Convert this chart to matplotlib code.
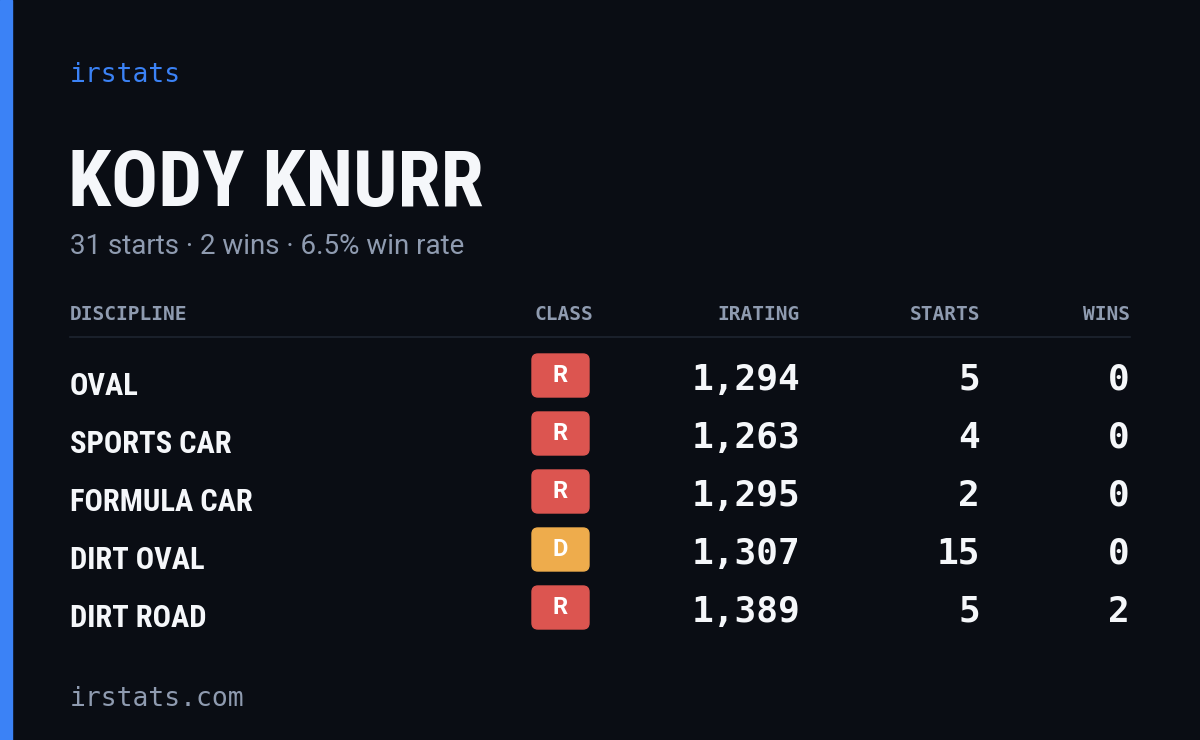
import matplotlib.pyplot as plt
from matplotlib.patches import Rectangle, FancyBboxPatch

name = 'KODY KNURR'
subtitle = '31 starts · 2 wins · 6.5% win rate'
disciplines = ['OVAL', 'SPORTS CAR', 'FORMULA CAR', 'DIRT OVAL', 'DIRT ROAD']
classes = ['R', 'R', 'R', 'D', 'R']
iratings = [1294, 1263, 1295, 1307, 1389]
starts = [5, 4, 2, 15, 5]
wins = [0, 0, 0, 0, 2]
headers = ['DISCIPLINE', 'CLASS', 'IRATING', 'STARTS', 'WINS']
class_colors = {'R': '#dc5550', 'D': '#eeac4c'}

W, H = 1200, 740
fig = plt.figure(figsize=(12, 7.4), dpi=100)
fig.patch.set_facecolor('#0a0d14')
ax = fig.add_axes([0, 0, 1, 1])
ax.set_xlim(0, W)
ax.set_ylim(H, 0)
ax.axis('off')

mono = 'DejaVu Sans Mono'
cond = ['Roboto Condensed', 'Roboto', 'DejaVu Sans']
sans = ['Roboto', 'DejaVu Sans']
grey = '#8f9bb0'

ax.add_patch(Rectangle((0, 0), 12, H, color='#3b82f6'))
ax.text(70, 75, 'irstats', family=mono, fontsize=19, color='#3b82f6', va='center')
ax.text(68, 185, name, family=cond, fontsize=56, weight='bold', color='#f5f7fa', va='center')
ax.text(70, 247, subtitle, family=sans, fontsize=20, color=grey, va='center')

hx = [70, 593, 800, 980, 1130]
ha = ['left', 'right', 'right', 'right', 'right']
for h, x, a in zip(headers, hx, ha):
    ax.text(x, 315, h, family=mono, fontsize=14, weight='bold', color=grey, ha=a, va='center')
ax.plot([70, 1130], [337, 337], color='#1e2430', lw=1.2)

for i, d in enumerate(disciplines):
    y = 378 + i * 58
    ax.text(70, y + 8, d, family=cond, fontsize=22, weight='bold', color='#f5f7fa', va='center')
    ax.add_patch(FancyBboxPatch((532, y - 24), 57, 43, boxstyle='round,pad=0,rounding_size=6',
                                color=class_colors[classes[i]]))
    ax.text(560, y - 2, classes[i], family=sans, fontsize=17, weight='bold',
            color='white', ha='center', va='center')
    for val, x in [(f'{iratings[i]:,}', 800), (str(starts[i]), 980), (str(wins[i]), 1130)]:
        ax.text(x, y + 2, val, family=mono, fontsize=26, weight='bold', color='#f5f7fa',
                ha='right', va='center')

ax.text(70, 699, 'irstats.com', family=mono, fontsize=19, color=grey, va='center')

fig.savefig('out.png', dpi=100, facecolor=fig.get_facecolor())
